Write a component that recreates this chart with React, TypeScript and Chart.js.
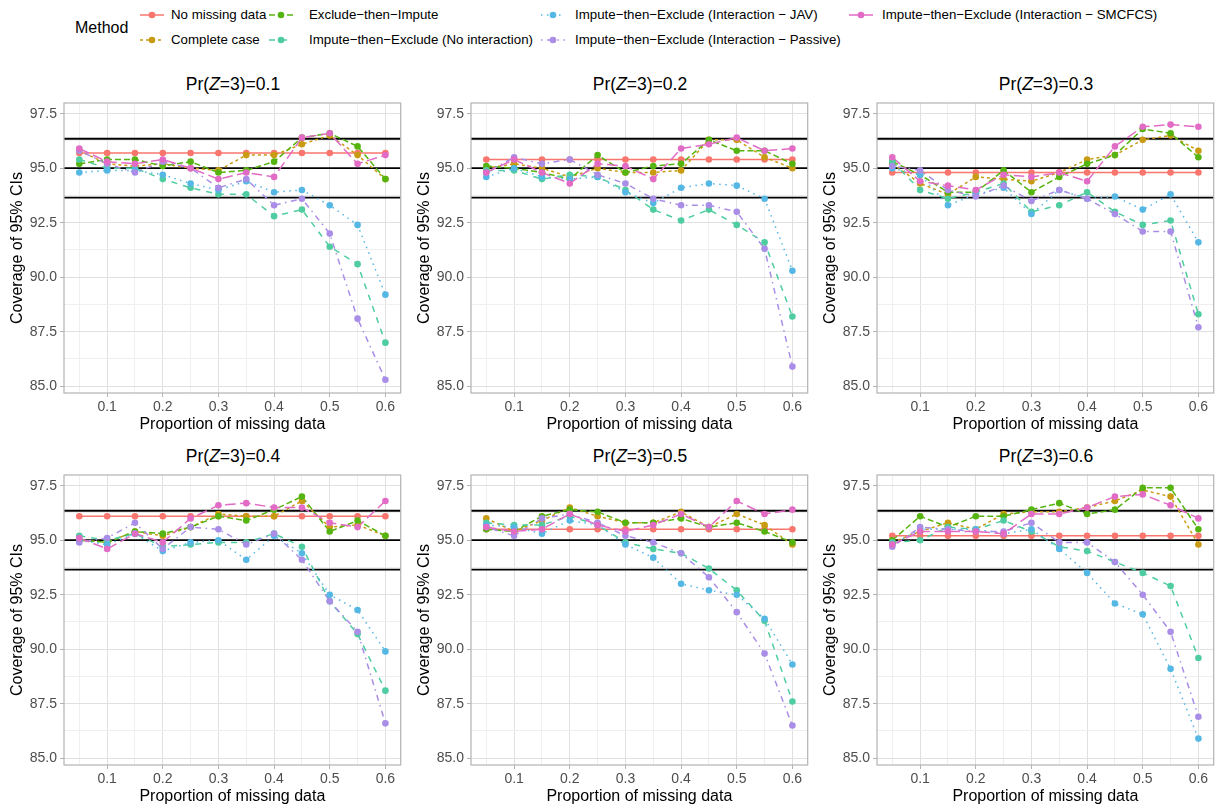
import React, { useEffect, useRef } from "react";
import { Chart, registerables } from "chart.js";

Chart.register(...registerables);

const FONT = '"Liberation Sans", Arial, Helvetica, sans-serif';

// ---------- data ----------
const proportions = [0.05, 0.1, 0.15, 0.2, 0.25, 0.3, 0.35, 0.4, 0.45, 0.5, 0.55, 0.6];
const panelProbs = ["0.1", "0.2", "0.3", "0.4", "0.5", "0.6"];

const methodNames = [
  "No missing data",
  "Complete case",
  "Exclude\u2212then\u2212Impute",
  "Impute\u2212then\u2212Exclude (No interaction)",
  "Impute\u2212then\u2212Exclude (Interaction \u2212 JAV)",
  "Impute\u2212then\u2212Exclude (Interaction \u2212 Passive)",
  "Impute\u2212then\u2212Exclude (Interaction \u2212 SMCFCS)",
];

// each row = one panel (Pr(Z=3) = 0.1 ... 0.6), 12 values per row
const noMissing = [
  [95.7, 95.7, 95.7, 95.7, 95.7, 95.7, 95.7, 95.7, 95.7, 95.7, 95.7, 95.7],
  [95.4, 95.4, 95.4, 95.4, 95.4, 95.4, 95.4, 95.4, 95.4, 95.4, 95.4, 95.4],
  [94.8, 94.8, 94.8, 94.8, 94.8, 94.8, 94.8, 94.8, 94.8, 94.8, 94.8, 94.8],
  [96.1, 96.1, 96.1, 96.1, 96.1, 96.1, 96.1, 96.1, 96.1, 96.1, 96.1, 96.1],
  [95.5, 95.5, 95.5, 95.5, 95.5, 95.5, 95.5, 95.5, 95.5, 95.5, 95.5, 95.5],
  [95.2, 95.2, 95.2, 95.2, 95.2, 95.2, 95.2, 95.2, 95.2, 95.2, 95.2, 95.2],
];
const completeCase = [
  [95.8, 95.2, 95.1, 95.2, 95.0, 94.9, 95.6, 95.6, 96.1, 96.5, 95.6, 94.5],
  [95.0, 95.2, 95.0, 94.6, 95.0, 94.8, 94.8, 94.9, 96.3, 96.3, 95.5, 95.0],
  [95.2, 94.3, 93.8, 94.6, 94.5, 94.4, 94.8, 95.4, 95.6, 96.3, 96.5, 95.8],
  [95.0, 94.9, 95.4, 95.2, 95.6, 96.2, 96.1, 96.1, 96.8, 95.6, 95.7, 95.2],
  [96.0, 95.4, 95.9, 96.5, 96.1, 95.8, 95.8, 96.3, 95.6, 96.2, 95.7, 94.8],
  [94.9, 95.4, 95.8, 95.5, 96.2, 96.3, 96.3, 96.5, 96.8, 97.3, 97.0, 94.8],
];
const excludeThenImpute = [
  [95.2, 95.4, 95.4, 95.1, 95.3, 94.8, 94.9, 95.3, 96.4, 96.6, 96.0, 94.5],
  [95.1, 95.0, 94.8, 94.5, 95.6, 94.8, 95.1, 95.2, 96.3, 95.8, 95.8, 95.2],
  [95.3, 94.7, 93.9, 93.9, 94.9, 93.9, 94.6, 95.2, 95.6, 96.8, 96.6, 95.5],
  [95.0, 94.9, 95.4, 95.3, 95.6, 96.1, 95.9, 96.4, 97.0, 95.4, 95.9, 95.2],
  [95.5, 95.4, 96.1, 96.4, 96.3, 95.8, 95.8, 96.0, 95.6, 95.8, 95.4, 94.9],
  [95.0, 96.1, 95.6, 96.1, 96.1, 96.4, 96.7, 96.2, 96.4, 97.4, 97.4, 95.5],
];
const noInteraction = [
  [95.4, 95.0, 95.0, 94.5, 94.1, 93.8, 93.8, 92.8, 93.1, 91.4, 90.6, 87.0],
  [94.9, 94.9, 94.5, 94.7, 94.6, 94.0, 93.1, 92.6, 93.1, 92.4, 91.6, 88.2],
  [95.3, 94.0, 93.6, 93.9, 94.3, 93.0, 93.3, 93.9, 93.0, 92.4, 92.6, 88.3],
  [95.2, 95.0, 95.3, 94.7, 94.8, 94.9, 94.9, 95.3, 94.7, 92.2, 90.7, 88.1],
  [95.8, 95.7, 95.7, 96.1, 95.7, 94.9, 94.6, 94.4, 93.7, 92.7, 91.3, 87.6],
  [94.9, 95.0, 95.6, 95.5, 95.9, 95.4, 94.7, 94.5, 94.0, 93.5, 92.9, 89.6],
];
const interactionJAV = [
  [94.8, 94.9, 94.9, 94.7, 94.3, 94.0, 94.4, 93.9, 94.0, 93.3, 92.4, 89.2],
  [94.6, 95.0, 94.6, 94.5, 94.6, 93.9, 93.4, 94.1, 94.3, 94.2, 93.6, 90.3],
  [95.0, 94.7, 93.3, 93.8, 94.1, 92.9, 94.0, 93.6, 93.7, 93.1, 93.8, 91.6],
  [95.0, 94.8, 95.3, 94.5, 94.9, 95.0, 94.1, 95.2, 94.4, 92.5, 91.8, 89.9],
  [95.7, 95.6, 95.3, 95.9, 95.7, 94.8, 94.2, 93.0, 92.7, 92.5, 91.4, 89.3],
  [94.8, 95.5, 95.5, 95.5, 95.3, 95.5, 94.6, 93.5, 92.1, 91.6, 89.1, 85.9],
];
const interactionPassive = [
  [95.8, 95.2, 94.8, 95.3, 95.0, 94.1, 94.5, 93.3, 93.6, 92.0, 88.1, 85.3],
  [94.8, 95.5, 95.2, 95.4, 94.7, 94.3, 93.6, 93.3, 93.3, 93.0, 91.3, 85.9],
  [95.1, 94.9, 94.0, 93.7, 94.2, 93.5, 94.0, 93.6, 92.9, 92.1, 92.1, 87.7],
  [94.9, 95.1, 95.8, 94.6, 95.6, 95.5, 94.8, 95.3, 94.1, 92.2, 90.8, 86.6],
  [95.6, 95.2, 96.0, 96.2, 95.8, 95.2, 94.9, 94.4, 93.3, 91.7, 89.8, 86.5],
  [94.7, 95.6, 95.5, 95.4, 95.4, 95.8, 94.9, 94.9, 94.0, 92.5, 90.8, 86.9],
];
const interactionSMCFCS = [
  [95.9, 95.3, 95.2, 95.4, 95.0, 94.5, 94.8, 94.6, 96.4, 96.6, 95.2, 95.6],
  [94.8, 95.4, 94.8, 94.3, 95.2, 95.1, 94.5, 95.9, 96.1, 96.4, 95.8, 95.9],
  [95.5, 94.4, 94.2, 94.0, 94.7, 94.6, 94.8, 94.4, 96.0, 96.9, 97.0, 96.9],
  [95.1, 94.6, 95.3, 94.9, 96.0, 96.6, 96.7, 96.5, 96.5, 95.8, 95.6, 96.8],
  [95.6, 95.4, 95.5, 96.2, 95.7, 95.4, 95.7, 96.2, 95.6, 96.8, 96.2, 96.4],
  [94.8, 95.4, 95.4, 95.4, 95.3, 96.2, 96.2, 96.5, 97.0, 97.1, 96.6, 96.0],
];

const seriesByMethod = [
  noMissing,
  completeCase,
  excludeThenImpute,
  noInteraction,
  interactionJAV,
  interactionPassive,
  interactionSMCFCS,
];

// Monte Carlo bounds around nominal 95%
const referenceLines = [93.65, 95, 96.35];

const xTicks = [0.05, 0.1, 0.15, 0.2, 0.25, 0.3, 0.35, 0.4, 0.45, 0.5, 0.55, 0.6];
const yTicks = [85, 86.25, 87.5, 88.75, 90, 91.25, 92.5, 93.75, 95, 96.25, 97.5];

// ---------- styles ----------
const colors = ["#F8766D", "#C89B12", "#56B410", "#4FCDA0", "#55B7E4", "#A98DE6", "#E26BC6"];
const LW = 1.5;
const PR = 3.3;
const dashes: number[][] = [
  [],
  [3, 3],
  [6, 3],
  [6, 6],
  [1.5, 4.5],
  [1.5, 4.5, 6, 4.5],
  [10.5, 4.5],
];

const X_MIN = 0.0225;
const X_MAX = 0.6275;
const Y_MIN = 84.69;
const Y_MAX = 97.99;

const isMajorX = (v: number) => Math.abs(v * 10 - Math.round(v * 10)) < 1e-6;
const isMajorY = (v: number) => Math.abs(v / 2.5 - Math.round(v / 2.5)) < 1e-6;

const CANVAS_W = 404;
const CANVAS_H = 344;
const PAD_TOP = 12;
const Y_AXIS_W = 64;
const X_AXIS_H = 42;
const PLOT_W = 338;

const colLefts = [0, 407, 813];
const rowTops = [91, 463];
const titleCenters = [84, 456];

const decorPlugin = {
  id: "panelDecor",
  beforeDatasetsDraw(chart: any) {
    const { ctx, chartArea: a, scales } = chart;
    const y = scales.y;
    ctx.save();
    ctx.strokeStyle = "#000000";
    ctx.lineWidth = 1.8;
    referenceLines.forEach((v) => {
      const py = y.getPixelForValue(v);
      ctx.beginPath();
      ctx.moveTo(a.left, py);
      ctx.lineTo(a.right, py);
      ctx.stroke();
    });
    ctx.restore();
  },
  afterDraw(chart: any) {
    const { ctx, chartArea: a } = chart;
    ctx.save();
    ctx.strokeStyle = "#B3B3B3";
    ctx.lineWidth = 1.2;
    ctx.strokeRect(a.left, a.top, a.right - a.left, a.bottom - a.top);
    ctx.restore();
  },
};

function Panel({ index }: { index: number }) {
  const ref = useRef<HTMLCanvasElement>(null);
  useEffect(() => {
    if (!ref.current) return;
    const datasets: any[] = [];
    seriesByMethod.forEach((rows, m) => {
      const pts = proportions.map((x, i) => ({ x, y: rows[index][i] }));
      datasets.push({
        label: methodNames[m] + " line",
        data: pts,
        borderColor: colors[m],
        backgroundColor: colors[m],
        borderWidth: LW,
        borderDash: dashes[m],
        pointRadius: 0,
        fill: false,
        tension: 0,
        order: 7 + (6 - m),
      });
      datasets.push({
        label: methodNames[m],
        data: pts,
        borderColor: colors[m],
        backgroundColor: colors[m],
        showLine: false,
        pointRadius: PR,
        pointBorderWidth: 0,
        pointHoverRadius: PR,
        order: 6 - m,
      });
    });
    const chart = new Chart(ref.current, {
      type: "line",
      data: { datasets },
      options: {
        responsive: false,
        animation: false,
        devicePixelRatio: 1,
        events: [],
        layout: { padding: { top: PAD_TOP, right: CANVAS_W - Y_AXIS_W - PLOT_W, left: 0, bottom: 0 } },
        plugins: {
          legend: { display: false },
          tooltip: { enabled: false },
          title: { display: false },
        },
        scales: {
          x: {
            type: "linear",
            min: X_MIN,
            max: X_MAX,
            afterBuildTicks: (s: any) => {
              s.ticks = xTicks.map((v) => ({ value: v }));
            },
            afterFit: (s: any) => {
              s.height = X_AXIS_H;
            },
            ticks: {
              autoSkip: false,
              maxRotation: 0,
              minRotation: 0,
              padding: 2,
              color: "#4D4D4D",
              font: { family: FONT, size: 14 },
              callback: (v: any) => (isMajorX(Number(v)) ? Number(v).toFixed(1) : ""),
            },
            grid: {
              color: (c: any) => (c.tick && !isMajorX(c.tick.value) ? "#EFEFEF" : "#E0E0E0"),
              lineWidth: 1,
              tickLength: 4,
              tickColor: (c: any) => (c.tick && !isMajorX(c.tick.value) ? "rgba(0,0,0,0)" : "#B3B3B3"),
            },
            border: { display: false },
            title: {
              display: true,
              text: "Proportion of missing data",
              color: "#000000",
              font: { family: FONT, size: 16 },
              padding: { top: 0, bottom: 1 },
            },
          },
          y: {
            type: "linear",
            min: Y_MIN,
            max: Y_MAX,
            afterBuildTicks: (s: any) => {
              s.ticks = yTicks.map((v) => ({ value: v }));
            },
            afterFit: (s: any) => {
              s.width = Y_AXIS_W;
            },
            ticks: {
              autoSkip: false,
              padding: 3,
              color: "#4D4D4D",
              font: { family: FONT, size: 14 },
              callback: (v: any) => (isMajorY(Number(v)) ? Number(v).toFixed(1) : ""),
            },
            grid: {
              color: (c: any) => (c.tick && !isMajorY(c.tick.value) ? "#EFEFEF" : "#E0E0E0"),
              lineWidth: 1,
              tickLength: 4,
              tickColor: (c: any) => (c.tick && !isMajorY(c.tick.value) ? "rgba(0,0,0,0)" : "#B3B3B3"),
            },
            border: { display: false },
            title: {
              display: true,
              text: "Coverage of 95% CIs",
              color: "#000000",
              font: { family: FONT, size: 16 },
              padding: { top: 8.4, bottom: 0 },
            },
          },
        },
      },
      plugins: [decorPlugin],
    } as any);
    return () => chart.destroy();
  }, [index]);

  const r = Math.floor(index / 3);
  const c = index % 3;
  return (
    <canvas
      ref={ref}
      width={CANVAS_W}
      height={CANVAS_H}
      style={{ position: "absolute", left: colLefts[c], top: rowTops[r], width: CANVAS_W, height: CANVAS_H }}
    />
  );
}

function PanelTitle({ index }: { index: number }) {
  const r = Math.floor(index / 3);
  const c = index % 3;
  const cx = colLefts[c] + Y_AXIS_W + PLOT_W / 2;
  return (
    <div
      style={{
        position: "absolute",
        left: cx - 120,
        width: 240,
        top: titleCenters[r] - 11,
        height: 22,
        lineHeight: "22px",
        textAlign: "center",
        fontSize: 17.5,
        color: "#000",
        whiteSpace: "nowrap",
      }}
    >
      Pr(<i>Z</i>=3)={panelProbs[index]}
    </div>
  );
}

const legendIconCenters = [
  [152, 15],
  [152, 40],
  [281, 15],
  [281, 40],
  [553, 15],
  [553, 40],
  [861, 15],
];
const legendTextLefts = [171, 171, 309, 309, 575, 575, 882];

function LegendKey({ m }: { m: number }) {
  const [cx, cy] = legendIconCenters[m];
  return (
    <>
      <svg
        width={26}
        height={12}
        style={{ position: "absolute", left: cx - 13, top: cy - 6 }}
      >
        <line
          x1={1}
          y1={6}
          x2={25}
          y2={6}
          stroke={colors[m]}
          strokeWidth={LW}
          strokeDasharray={dashes[m].length ? dashes[m].join(" ") : undefined}
        />
        <circle cx={13} cy={6} r={PR} fill={colors[m]} />
      </svg>
      <div
        style={{
          position: "absolute",
          left: legendTextLefts[m],
          top: cy - 9,
          height: 18,
          lineHeight: "18px",
          fontSize: 13.3,
          color: "#000",
          whiteSpace: "nowrap",
        }}
      >
        {methodNames[m]}
      </div>
    </>
  );
}

export default function App() {
  return (
    <div
      style={{
        position: "absolute",
        left: 0,
        top: 0,
        width: 1216,
        height: 804,
        overflow: "hidden",
        background: "#FFFFFF",
        fontFamily: FONT,
      }}
    >
      <div
        style={{
          position: "absolute",
          left: 75,
          top: 18,
          height: 20,
          lineHeight: "20px",
          fontSize: 16,
          color: "#000",
        }}
      >
        Method
      </div>
      {methodNames.map((_, m) => (
        <LegendKey key={m} m={m} />
      ))}
      {panelProbs.map((_, i) => (
        <PanelTitle key={"t" + i} index={i} />
      ))}
      {panelProbs.map((_, i) => (
        <Panel key={"p" + i} index={i} />
      ))}
    </div>
  );
}
